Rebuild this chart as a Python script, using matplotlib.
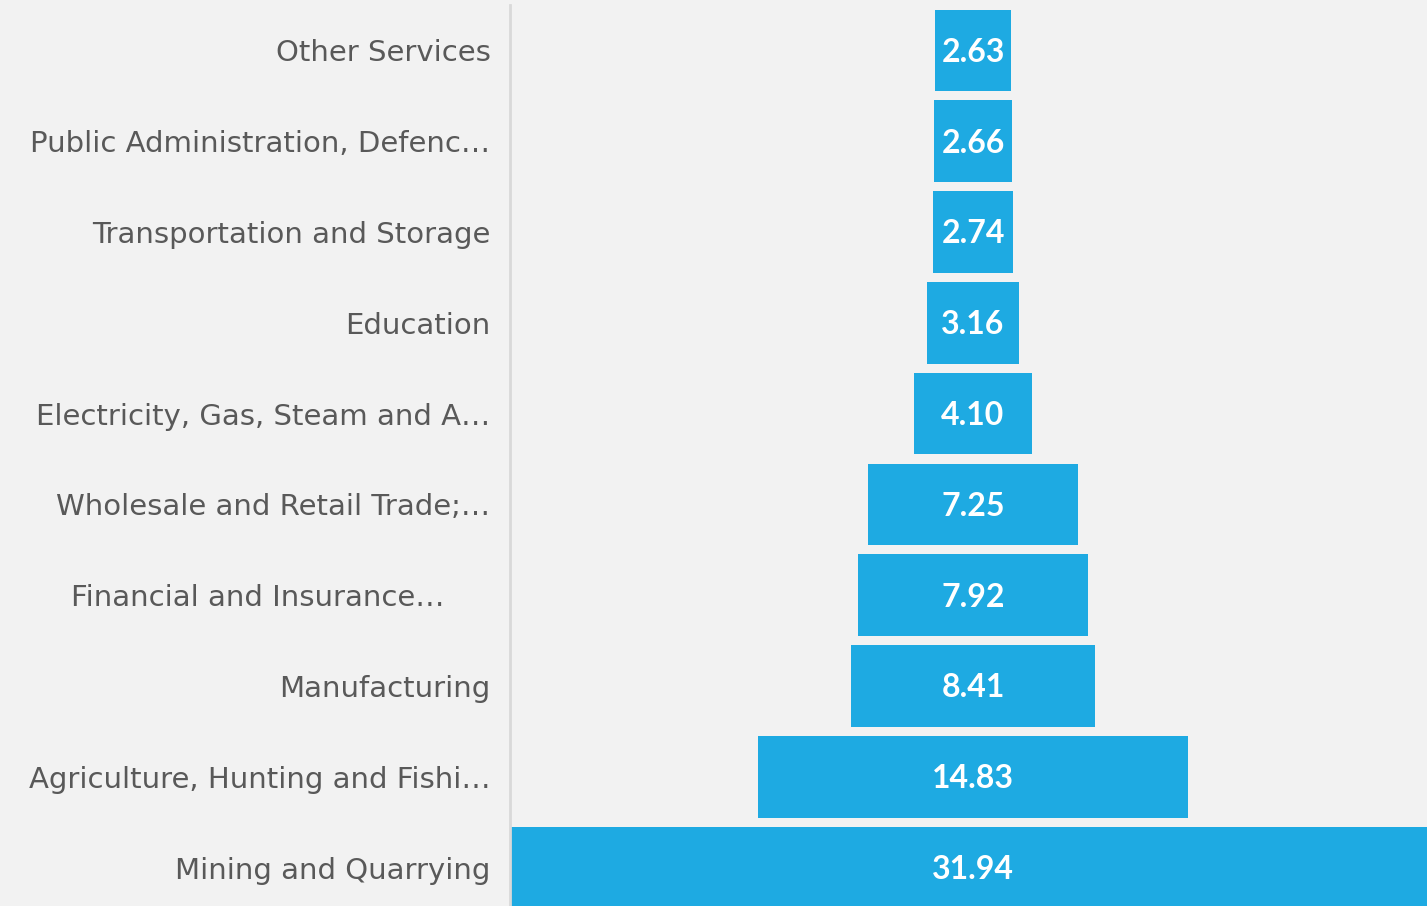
import numpy as np
import matplotlib.pyplot as plt

categories = ['Mining and Quarrying', 'Agriculture, Hunting and Fishi…', 'Manufacturing',
              'Financial and Insurance…     ', 'Wholesale and Retail Trade;…',
              'Electricity, Gas, Steam and A…', 'Education', 'Transportation and Storage',
              'Public Administration, Defenc…', 'Other Services']
values = [31.94, 14.83, 8.41, 7.92, 7.25, 4.10, 3.16, 2.74, 2.66, 2.63]

bg = '#f2f2f2'
blue = '#1eaae2'

fig = plt.figure(figsize=(14.27, 9.06), dpi=100, facecolor=bg)
ax = fig.add_axes([510 / 1427, -7 / 906, 926 / 1427, 908 / 906])
ax.set_facecolor(bg)

y = np.arange(len(values))
v = np.array(values)
ax.barh(y, v, left=-v / 2, height=0.9, color=blue)
ax.set_xlim(-max(values) / 2, max(values) / 2)
ax.set_ylim(-0.5, len(values) - 0.5)

# etiquetas de valor centradas en cada barra
for yi, val in zip(y, values):
    ax.text(0, yi - 0.02, f'{val:.2f}', ha='center', va='center', color='white',
            fontsize=23, fontweight='bold', family='Lato')

ax.set_yticks(y)
ax.set_yticklabels(categories, fontsize=21, color='#595959', family='DejaVu Sans')
ax.tick_params(axis='y', length=0, pad=14)
ax.set_xticks([])
for s in ['top', 'right', 'bottom']:
    ax.spines[s].set_visible(False)
ax.spines['left'].set_color('#d9d9d9')
ax.spines['left'].set_linewidth(2)

fig.savefig('out.png', dpi=100, facecolor=bg)
